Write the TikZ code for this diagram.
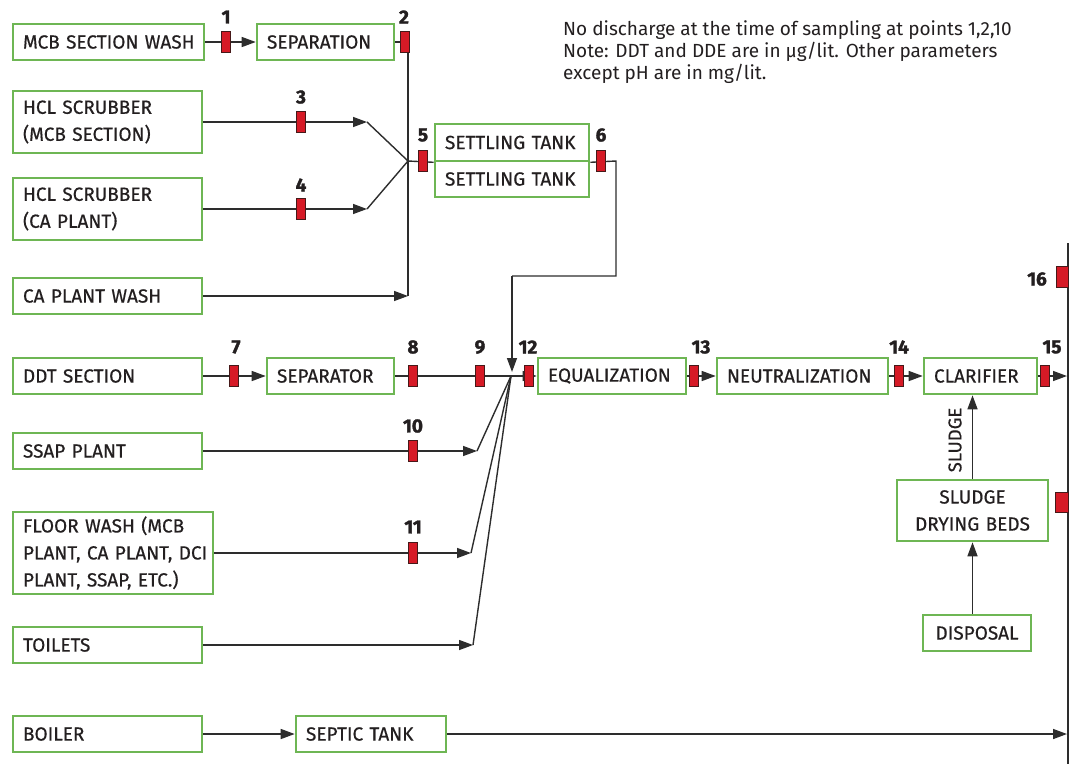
\documentclass[tikz,border=0pt]{standalone}
\usepackage{fontspec}
\setmainfont{Fira Sans}
\newfontfamily\medfam{Fira Sans}[FakeBold=0.5]
\newfontfamily\numfam{Fira Sans}[BoldFeatures={FakeBold=1.6}]
\usetikzlibrary{arrows.meta,calc}
\definecolor{boxgreen}{RGB}{110,182,84}
\definecolor{mred}{RGB}{214,26,38}
\definecolor{mdark}{RGB}{70,25,25}
\definecolor{lin}{RGB}{45,45,45}
\definecolor{txt}{RGB}{35,31,32}
\newcommand{\boxfnt}{\medfam\fontsize{19}{27}\selectfont}
\newcommand{\numfnt}{\numfam\fontsize{19}{19}\selectfont\bfseries}
\newcommand{\notefnt}{\fontsize{19}{22}\selectfont}
\newcommand{\ml}[1]{\mbox{#1}}
\hbadness=10000 \hfuzz=100pt
\begin{document}
\begin{tikzpicture}[x=1pt,y=-1pt,
  box/.style={draw=boxgreen, line width=2.6pt, fill=white, inner xsep=10pt, inner ysep=0pt, align=left, font=\boxfnt, text=txt},
  cbox/.style={box, align=center},
  mk/.style={draw=mdark, fill=mred, line width=1pt, minimum width=9pt, minimum height=21pt, inner sep=0pt},
  num/.style={font=\numfnt, text=txt, inner sep=0pt},
  ln/.style={draw=lin, line width=1.4pt},
  arr/.style={ln, -{Triangle[length=14pt,width=10pt]}}
]
\useasboundingbox (0,0) rectangle (1070,764);

% boxes
\node[box, text width=171pt, minimum height=36pt] (mcb) at (108.5,42) {\ml{MCB SECTION WASH}};
\node[box, text width=117pt, minimum height=36pt] (sepn) at (325.5,42) {\ml{SEPARATION}};
\node[box, text width=169pt, minimum height=62pt] (hcl1) at (107.5,122) {\ml{HCL SCRUBBER}\\\ml{(MCB SECTION)}};
\node[box, text width=169pt, minimum height=62pt] (hcl2) at (107.5,209) {\ml{HCL SCRUBBER}\\\ml{(CA PLANT)}};
\node[box, text width=169pt, minimum height=36pt] (cawash) at (107.5,296) {\ml{CA PLANT WASH}};
\node[box, text width=134pt, minimum height=37pt] (st1) at (512,142.5) {\ml{SETTLING TANK}};
\node[box, text width=134pt, minimum height=36pt] (st2) at (512,179) {\ml{SETTLING TANK}};
\node[box, text width=169pt, minimum height=36pt] (ddt) at (107.5,376) {\ml{DDT SECTION}};
\node[box, text width=107pt, minimum height=36pt] (sepr) at (330.5,376) {\ml{SEPARATOR}};
\node[box, text width=169pt, minimum height=36pt] (ssap) at (107.5,451) {\ml{SSAP PLANT}};
\node[box, text width=180pt, minimum height=82pt] (floor) at (113,553) {\ml{FLOOR WASH (MCB}\\\ml{PLANT, CA PLANT, DCI}\\\ml{PLANT, SSAP, ETC.)}};
\node[box, text width=169pt, minimum height=36pt] (toil) at (107.5,645) {\ml{TOILETS}};
\node[box, text width=169pt, minimum height=36pt] (boil) at (107.5,734) {\ml{BOILER}};
\node[box, text width=130pt, minimum height=36pt] (sept) at (371,734) {\ml{SEPTIC TANK}};
\node[box, text width=128pt, minimum height=36pt] (eq) at (612,376) {\ml{EQUALIZATION}};
\node[box, text width=151pt, minimum height=36pt] (neu) at (802.5,376) {\ml{NEUTRALIZATION}};
\node[box, text width=93pt, minimum height=36pt] (clar) at (980.5,376) {\ml{CLARIFIER}};
\node[cbox, text width=131pt, minimum height=61pt] (sdb) at (972.5,510.5) {SLUDGE\\DRYING BEDS};
\node[cbox, text width=88pt, minimum height=36pt] (disp) at (977,633) {DISPOSAL};

% junction coordinates
\coordinate (jTop) at (408,42);
\coordinate (jCA) at (408,296);
\coordinate (jA) at (408,161);
\coordinate (h1) at (367,122);
\coordinate (h2) at (367,209);
\coordinate (c1) at (616,161);
\coordinate (c2) at (616,276);
\coordinate (c3) at (512,276);
\coordinate (c4) at (512,372);
\coordinate (jB) at (511,376);
\coordinate (s10) at (477,451);
\coordinate (s11) at (471,553);
\coordinate (s12) at (473,645);
\coordinate (vt) at (1068,243);
\coordinate (vb) at (1068,764);
\coordinate (cEnd) at (1067,376);
\coordinate (sEnd) at (1067,734);

% connectors
\draw[arr] (mcb.east) -- (sepn.west);
\draw[ln] (sepn.east) -- (jTop) -- (jCA);
\draw[arr] (cawash.east) -- (jCA);
\draw[arr] (hcl1.east) -- (h1);
\draw[ln] (h1) -- (jA);
\draw[arr] (hcl2.east) -- (h2);
\draw[ln] (h2) -- (jA);
\draw[ln] (jA) -- (st1.south west);
\draw[ln] (st1.south east) -- (c1) -- (c2) -- (c3);
\draw[arr] (c3) -- (c4);
\draw[arr] (ddt.east) -- (sepr.west);
\draw[ln] (sepr.east) -- (jB);
\draw[arr] (jB) -- (eq.west);
\draw[arr] (ssap.east) -- (s10);
\draw[ln] (s10) -- (jB);
\draw[arr] (floor.east) -- (s11);
\draw[ln] (s11) -- (jB);
\draw[arr] (toil.east) -- (s12);
\draw[ln] (s12) -- (jB);
\draw[arr] (eq.east) -- (neu.west);
\draw[arr] (neu.east) -- (clar.west);
\draw[arr] (clar.east) -- (cEnd);
\draw[ln] (vt) -- (vb);
\draw[arr] (boil.east) -- (sept.west);
\draw[arr] (sept.east) -- (sEnd);
\draw[arr] (disp.north -| sdb.south) -- (sdb.south);
\draw[arr] (sdb.north) -- (sdb.north |- clar.south);
\node[font=\medfam\fontsize{18.5}{18.5}\selectfont, text=txt, rotate=90, inner sep=0pt] (sl) at (955,440) {SLUDGE};

% markers
\node[mk] (m1) at (226,42) {};
\node[mk] (m2) at (405,42) {};
\node[mk] (m3) at (301,122) {};
\node[mk] (m4) at (301,209) {};
\node[mk] (m5) at (423,161) {};
\node[mk] (m6) at (601,161) {};
\node[mk] (m7) at (234,376) {};
\node[mk] (m8) at (413,376) {};
\node[mk] (m9) at (480,376) {};
\node[mk] (m12) at (529,376) {};
\node[mk] (m13) at (694,376) {};
\node[mk] (m14) at (899,376) {};
\node[mk] (m15) at (1045,376) {};
\node[mk] (m10) at (413,451) {};
\node[mk] (m11) at (413,553) {};
\node[mk, minimum width=12pt] (m16) at (1062.5,277) {};
\node[mk, minimum width=13pt, minimum height=20pt] (m17) at (1062,502) {};

% numbers
\node[num] at (226,17) {1};
\node[num] at (404,17) {2};
\node[num] at (301,97) {3};
\node[num] at (301,185) {4};
\node[num] at (423,135) {5};
\node[num] at (601,135) {6};
\node[num] at (236,347) {7};
\node[num] at (413,347) {8};
\node[num] at (480,347) {9};
\node[num] at (528,347) {12};
\node[num] at (701,347) {13};
\node[num] at (899,347) {14};
\node[num] at (1052,347) {15};
\node[num] at (413,426) {10};
\node[num] at (413,527) {11};
\node[num] at (1037,279) {16};

% note
\node[anchor=north west, align=left, font=\notefnt, text=txt, inner sep=0pt] (note) at (563,20)
  {No discharge at the time of sampling at points 1,2,10\\Note: DDT and DDE are in µg/lit. Other parameters\\except pH are in mg/lit.};
\end{tikzpicture}
\end{document}
